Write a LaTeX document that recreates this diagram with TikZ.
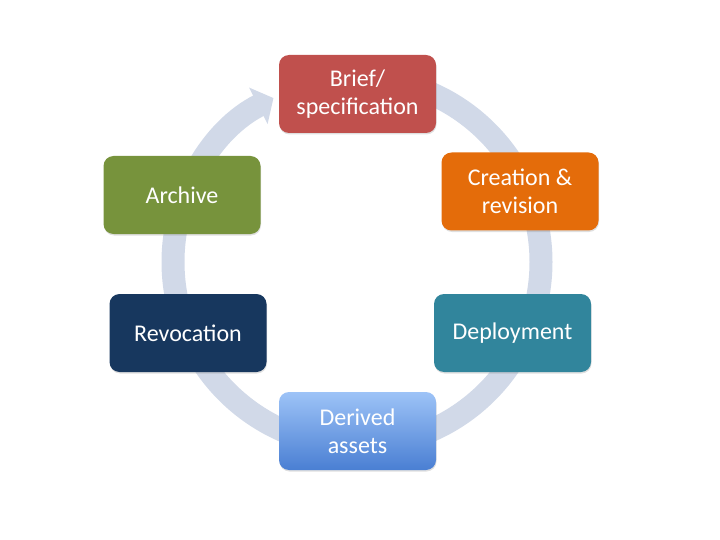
\documentclass[tikz,border=0pt]{standalone}
\usepackage{fontspec}
\setmainfont{Carlito}
\usetikzlibrary{arrows.meta,shadows}
\definecolor{ringblue}{HTML}{D1D9E8}
\definecolor{briefred}{HTML}{C0504D}
\definecolor{creationorange}{HTML}{E46C0A}
\definecolor{deployteal}{HTML}{31859C}
\definecolor{derivedtop}{HTML}{9DC3F7}
\definecolor{derivedbottom}{HTML}{4A7FD3}
\definecolor{revocationnavy}{HTML}{17375E}
\definecolor{archivegreen}{HTML}{77933C}
\begin{document}
\begin{tikzpicture}[x=1pt, y=-1pt,
  stage/.style = {shape=rectangle, rounded corners=10pt,
    minimum width=157pt, minimum height=78pt, align=center,
    text=white, font=\fontsize{24}{28}\selectfont,
    drop shadow={opacity=0.25, shadow xshift=0.5pt, shadow yshift=-1.5pt}}]
  \useasboundingbox (0,0) rectangle (720,540);
  \coordinate (hub) at (357,262);
  % the cycle ring
  \draw[ringblue, line width=23pt, -{Triangle[width=40pt,length=17pt]}]
    ([shift={(-90:184)}]hub) arc[start angle=-90, end angle=243, radius=184];
  \node[stage, fill=briefred] (brief) at (357.5,94) {Brief/\\specification};
  \node[stage, fill=creationorange] (creation) at (520,191.5) {Creation \&\\revision};
  \node[stage, fill=deployteal] (deploy) at (512.5,333) {Deployment};
  \node[stage, top color=derivedtop, bottom color=derivedbottom] (derived) at (357.5,431) {Derived\\assets};
  \node[stage, fill=revocationnavy] (revocation) at (188,333) {Revocation};
  \node[stage, fill=archivegreen] (archive) at (182,195) {Archive};
\end{tikzpicture}
\end{document}
